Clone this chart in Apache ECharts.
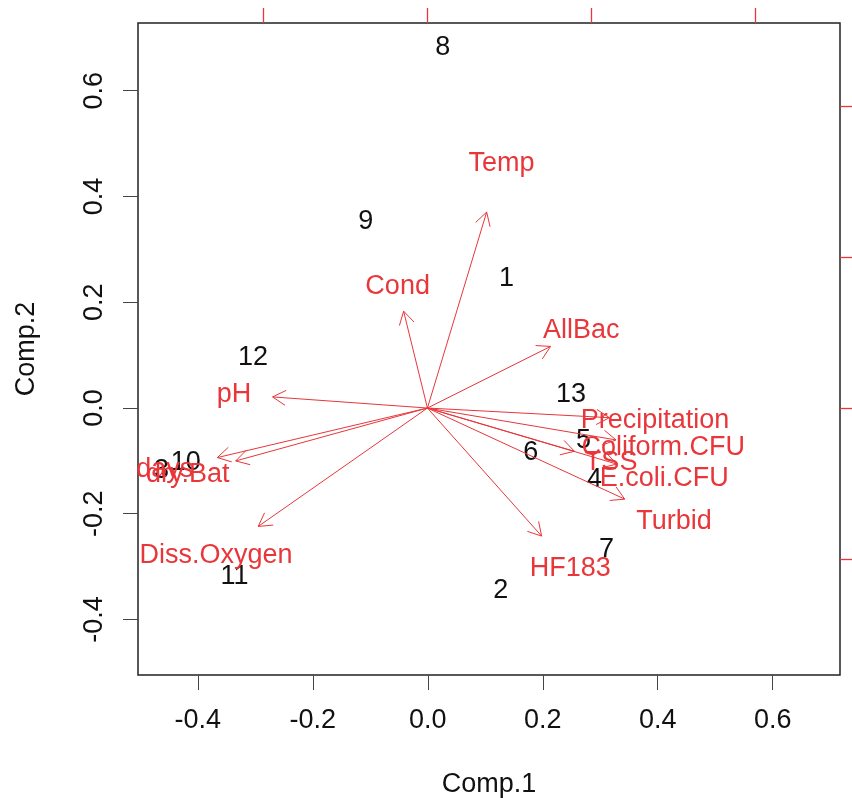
<!DOCTYPE html>
<html>
<head>
<meta charset="utf-8">
<script src="https://cdn.jsdelivr.net/npm/echarts@6/dist/echarts.min.js"></script>
<style>
html, body { margin: 0; padding: 0; background: #fff; }
#main { width: 852px; height: 798px; }
</style>
</head>
<body>
<div id="main"></div>
<script>
// sample scores on the first two components
const sampleIds = ['1', '2', '3', '4', '5', '6', '7', '8', '9', '10', '11', '12', '13'];
const scoreX = [0.137, 0.127, -0.463, 0.290, 0.271, 0.179, 0.311, 0.026, -0.108, -0.421, -0.336, -0.304, 0.249];
const scoreY = [0.244, -0.346, -0.119, -0.136, -0.062, -0.085, -0.268, 0.681, 0.352, -0.104, -0.318, 0.095, 0.025];

// variable loadings (top / right axes)
const varNames = ['Temp', 'Cond', 'AllBac', 'pH', 'Precipitation', 'Coliform.CFU', 'TSS', 'E.coli.CFU', 'Turbid', 'HF183', 'Diss.Oxygen', 'days', 'dry.Bat'];
const loadX = [0.226, -0.091, 0.470, -0.591, 0.695, 0.720, 0.561, 0.723, 0.753, 0.436, -0.646, -0.802, -0.732];
const loadY = [0.811, 0.401, 0.255, 0.046, -0.040, -0.132, -0.179, -0.232, -0.377, -0.530, -0.490, -0.205, -0.219];

const scoreTicks = [-0.4, -0.2, 0, 0.2, 0.4, 0.6];
const loadTicks = [-0.5, 0, 0.5, 1.0];

const RED = '#e8363a';
const FONT = '"Liberation Sans", Arial, sans-serif';
const FS = 27;

const chart = echarts.init(document.getElementById('main'));

// arrow from origin to 0.8 * loading, label at the loading itself
function renderArrow(params, api) {
  const i = params.dataIndex;
  const lx = api.value(0);
  const ly = api.value(1);
  const o = api.coord([0, 0]);
  const t = api.coord([lx * 0.8, ly * 0.8]);
  const c = api.coord([lx, ly]);
  const ang = Math.atan2(t[1] - o[1], t[0] - o[0]);
  const h = 15;
  const a = Math.PI / 6;
  const h1 = [t[0] - h * Math.cos(ang - a), t[1] - h * Math.sin(ang - a)];
  const h2 = [t[0] - h * Math.cos(ang + a), t[1] - h * Math.sin(ang + a)];
  return {
    type: 'group',
    children: [
      { type: 'line', shape: { x1: o[0], y1: o[1], x2: t[0], y2: t[1] }, style: { stroke: RED, lineWidth: 1 } },
      { type: 'polyline', shape: { points: [h1, t, h2] }, style: { stroke: RED, fill: null, lineWidth: 1 } },
      {
        type: 'text', x: c[0], y: c[1],
        style: { text: varNames[i], fill: RED, fontSize: FS, fontFamily: FONT, align: 'center', verticalAlign: 'middle' }
      }
    ]
  };
}

function renderScore(params, api) {
  const p = api.coord([api.value(0), api.value(1)]);
  return {
    type: 'text', x: p[0], y: p[1],
    style: { text: sampleIds[params.dataIndex], fill: '#111', fontSize: FS, fontFamily: FONT, align: 'center', verticalAlign: 'middle' }
  };
}

chart.setOption({
  animation: false,
  backgroundColor: '#fff',
  grid: {
    left: 138, right: 12, top: 23, bottom: 123,
    show: true, borderColor: '#222', borderWidth: 1.5,
    outerBoundsMode: 'none'
  },
  xAxis: [
    {
      type: 'value', position: 'bottom', min: -0.504, max: 0.717,
      name: 'Comp.1', nameLocation: 'middle', nameGap: 96,
      nameTextStyle: { color: '#111', fontSize: FS, fontFamily: FONT },
      splitLine: { show: false },
      axisLine: { show: false, onZero: false },
      axisTick: { show: true, length: 15, lineStyle: { color: '#444' }, customValues: scoreTicks },
      axisLabel: {
        color: '#111', fontSize: FS, fontFamily: FONT, margin: 32,
        customValues: scoreTicks, formatter: v => v.toFixed(1)
      }
    },
    {
      type: 'value', position: 'top', min: -0.884, max: 1.26,
      splitLine: { show: false },
      axisLine: { show: false, onZero: false },
      axisTick: { show: true, length: 15, lineStyle: { color: RED, width: 1.3 }, customValues: loadTicks },
      axisLabel: { show: false }
    }
  ],
  yAxis: [
    {
      type: 'value', position: 'left', min: -0.505, max: 0.728,
      name: 'Comp.2', nameLocation: 'middle', nameGap: 98, nameRotate: 90,
      nameTextStyle: { color: '#111', fontSize: FS, fontFamily: FONT },
      splitLine: { show: false },
      axisLine: { show: false, onZero: false },
      axisTick: { show: true, length: 15, lineStyle: { color: '#444' }, customValues: scoreTicks },
      axisLabel: {
        color: '#111', fontSize: FS, fontFamily: FONT, margin: 30, rotate: 90,
        customValues: scoreTicks, formatter: v => v.toFixed(1)
      }
    },
    {
      type: 'value', position: 'right', min: -0.884, max: 1.275,
      splitLine: { show: false },
      axisLine: { show: false, onZero: false },
      axisTick: { show: true, length: 15, lineStyle: { color: RED, width: 1.3 }, customValues: loadTicks },
      axisLabel: { show: false }
    }
  ],
  series: [
    {
      type: 'custom', xAxisIndex: 0, yAxisIndex: 0, clip: false,
      renderItem: renderScore,
      data: scoreX.map((x, i) => [x, scoreY[i]])
    },
    {
      type: 'custom', xAxisIndex: 1, yAxisIndex: 1, clip: false,
      renderItem: renderArrow,
      data: loadX.map((x, i) => [x, loadY[i]])
    }
  ]
});
</script>
</body>
</html>
